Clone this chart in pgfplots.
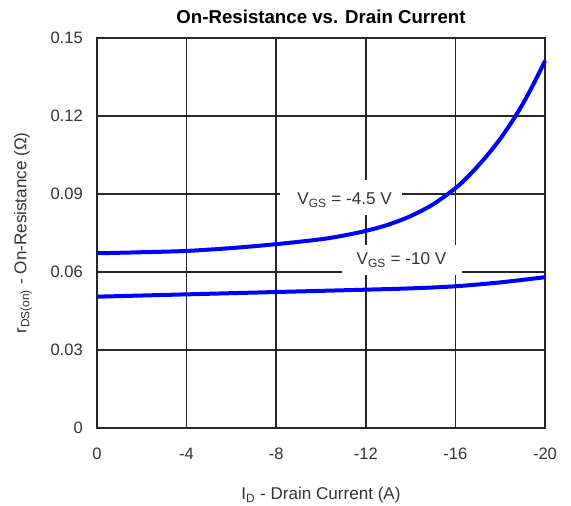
\documentclass[border=0pt]{standalone}
\usepackage{fontspec}
\setmainfont{Liberation Sans}
\usepackage{pgfplots}
\pgfplotsset{compat=1.18}

\begin{document}
\begin{tikzpicture}
\useasboundingbox (-72.75pt,-58.5pt) rectangle (355.5pt,321pt);
\begin{axis}[
  at={(0,0)}, anchor=south west,
  scale only axis, width=336pt, height=292.5pt,
  xmin=-20, xmax=0, ymin=0, ymax=0.15,
  x dir=reverse,
  xtick={0,-4,-8,-12,-16,-20},
  xticklabels={0,-4,-8,-12,-16,-20},
  ytick={0,0.03,0.06,0.09,0.12,0.15},
  yticklabels={0,0.03,0.06,0.09,0.12,0.15},
  grid=major,
  major grid style={black!85, line width=1.1pt},
  axis line style={black!85, line width=1.1pt},
  major tick length=0pt,
  tick label style={font=\fontsize{12.4}{14}\selectfont, text=black!80},
  xticklabel style={anchor=base, inner sep=0pt, yshift=-24pt},
  yticklabel style={anchor=east, inner sep=0pt, xshift=-10.5pt},
  title={On-Resistance vs. Drain Current},
  title style={at={(axis description cs:0.5,1)}, anchor=base, inner sep=0pt,
    yshift=4.5pt, font=\bfseries\fontsize{14}{16}\selectfont},
  xlabel={I\textsubscript{D} - Drain Current (A)},
  x label style={at={(axis description cs:0.5,0)}, anchor=base, inner sep=0pt,
    yshift=-54pt, font=\fontsize{12.8}{15}\selectfont, text=black!80},
  ylabel={r\textsubscript{DS(on)} - On-Resistance (Ω)},
  y label style={at={(axis description cs:-0.1577,0.5)}, anchor=base, rotate=0,
    inner sep=0pt, font=\fontsize{12.8}{15}\selectfont, text=black!80},
  clip=false,
]
% V_GS = -4.5 V
\addplot[blue, line width=3pt, smooth] coordinates {
  (0,0.0672) (-2,0.0676) (-4,0.0681) (-6,0.0692) (-8,0.0707) (-10,0.0726)
  (-11,0.0740) (-12,0.0758) (-13,0.0782) (-14,0.0815) (-15,0.0860)
  (-16,0.0922) (-16.5,0.0962) (-17,0.1007) (-17.5,0.1057) (-18,0.1112)
  (-18.5,0.1175) (-19,0.1245) (-19.5,0.1325) (-20,0.1412)
};
% V_GS = -10 V
\addplot[blue, line width=3pt, smooth] coordinates {
  (0,0.0505) (-4,0.0514) (-8,0.0523) (-12,0.0532) (-14,0.0537)
  (-16,0.0545) (-18,0.0560) (-20,0.0580)
};
% curve labels on white patches over the grid
\node[fill=white, inner sep=0pt, minimum width=91.5pt, minimum height=26pt]
  at (axis cs:-10.89,0.0887) {};
\node[anchor=base, inner sep=0pt, font=\fontsize{12.8}{15}\selectfont, text=black!80]
  at (axis cs:-11.05,0.0858) {V\textsubscript{GS} = -4.5 V};
\node[fill=white, inner sep=0pt, minimum width=90pt, minimum height=22.5pt]
  at (axis cs:-13.62,0.0646) {};
\node[anchor=base, inner sep=0pt, font=\fontsize{12.8}{15}\selectfont, text=black!80]
  at (axis cs:-13.59,0.0627) {V\textsubscript{GS} = -10 V};
\end{axis}
\end{tikzpicture}
\end{document}
